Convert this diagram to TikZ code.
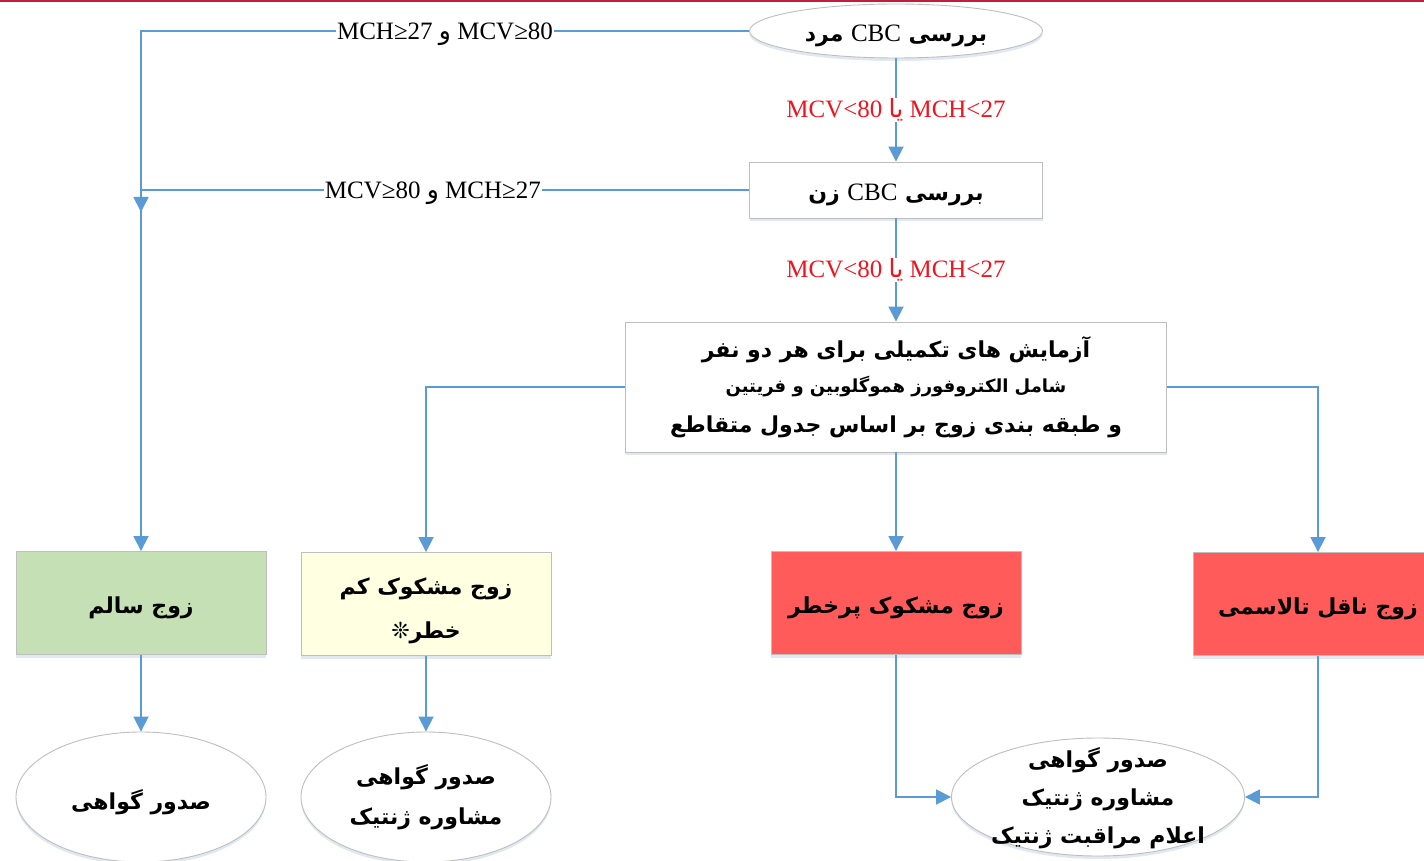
\documentclass[tikz,border=0pt]{standalone}
\usepackage{fontspec}
\setmainfont{Liberation Serif}
\newfontfamily\fa[Script=Arabic]{DejaVu Sans}
\TeXXeTstate=1
\usetikzlibrary{shapes.geometric,arrows.meta,shadows}
\definecolor{lineblue}{RGB}{91,155,213}
\definecolor{bordergray}{RGB}{190,190,190}
\definecolor{greenfill}{RGB}{197,224,180}
\definecolor{yellowfill}{RGB}{255,255,226}
\definecolor{redfill}{RGB}{255,91,91}
\definecolor{redtext}{RGB}{240,20,30}
\definecolor{toprule}{RGB}{190,30,64}
\definecolor{shadowcol}{RGB}{170,190,215}
\newcommand{\lowr}[1]{\raisebox{-5pt}[\height][\depth]{#1}}
\begin{document}
\begin{tikzpicture}[x=1pt,y=-1pt,
  conn/.style={draw=lineblue, line width=1.8pt, -{Triangle[length=15pt,width=15pt]}},
  shade/.style={drop shadow={shadow xshift=0pt, shadow yshift=-3pt, opacity=0.35, fill=shadowcol}},
  fatext/.style={font=\fa\bfseries\fontsize{22}{38}\selectfont},
  boxnode/.style={draw=bordergray, line width=0.9pt, fill=white, shade, minimum width=250pt, minimum height=103pt, align=center, inner sep=2pt, fatext},
  ellnode/.style={ellipse, draw=bordergray, line width=0.9pt, fill=white, shade, minimum width=250pt, minimum height=130pt, align=center, inner sep=0pt, fatext},
  lbl/.style={fill=white, inner sep=1pt, yshift=-3pt, font=\fontsize{25}{28}\selectfont},
  redlbl/.style={fill=white, inner sep=1pt, text=redtext, font=\fontsize{25}{28}\selectfont},
]
\useasboundingbox (0,0) rectangle (1424,861);
\fill[white] (0,0) rectangle (1424,861);
\draw[toprule, line width=2pt] (0,1) -- (1424,1);

% nodes
\node[ellnode, minimum width=293pt, minimum height=54pt] (mard) at (896,31)
  {\lowr{\beginR بررسی \beginL{\rmfamily\mdseries\fontsize{25}{28}\selectfont CBC}\endL{} مرد\endR}};
\node[boxnode, minimum width=293pt, minimum height=56pt] (zan) at (896,190)
  {\lowr{\beginR بررسی \beginL{\rmfamily\mdseries\fontsize{25}{28}\selectfont CBC}\endL{} زن\endR}};
\node[boxnode, minimum width=541pt, minimum height=130pt] (tests) at (896,387)
  {\beginR آزمایش های تکمیلی برای هر دو نفر\endR\\[-3pt]
   {\fontsize{18}{30}\selectfont\beginR شامل الکتروفورز هموگلوبین و فریتین\endR}\\[2pt]
   \beginR و طبقه بندی زوج بر اساس جدول متقاطع\endR};
\node[boxnode, fill=greenfill] (salem) at (141,603) {\lowr{\beginR زوج سالم\endR}};
\node[boxnode, fill=yellowfill] (kam) at (426,604)
  {\lowr{\begin{tabular}{@{}c@{}}\beginR زوج مشکوک کم\endR\\[6pt]\beginR خطر❊\endR\end{tabular}}};
\node[boxnode, fill=redfill] (porkhatar) at (896,603) {\lowr{\beginR زوج مشکوک پرخطر\endR}};
\node[boxnode, fill=redfill] (naqel) at (1318,604) {\lowr{\beginR زوج ناقل تالاسمی\endR}};
\node[ellnode] (e1) at (141,797) {\lowr{\beginR صدور گواهی\endR}};
\node[ellnode] (e2) at (426,797) {\beginR صدور گواهی\endR\\[2pt]\beginR مشاوره ژنتیک\endR};
\node[ellnode, minimum width=293pt, minimum height=118pt] (e3) at (1098,797) {};
\node[align=center, inner sep=0pt, fatext] (e3t) at (1098,798)
  {\beginR صدور گواهی\endR\\\beginR مشاوره ژنتیک\endR\\\beginR اعلام مراقبت ژنتیک\endR};
\coordinate (j) at (141,212);

% connectors
\draw[conn] (mard.west) -| node[lbl, pos=0.25] {MCH≥27 {\fa و} MCV≥80} (salem.north);
\draw[conn] (zan.west) -| node[lbl, pos=0.26] {MCV≥80 {\fa و} MCH≥27} (j);
\draw[conn] (mard.south) -- node[redlbl] {MCV<80 {\fa یا} MCH<27} (zan.north);
\draw[conn] (zan.south) -- node[redlbl] {MCV<80 {\fa یا} MCH<27} (tests.north);
\draw[conn] (tests.west) -| (kam.north);
\draw[conn] (tests.south) -- (porkhatar.north);
\draw[conn] (tests.east) -| (naqel.north);
\draw[conn] (salem.south) -- (e1.north);
\draw[conn] (kam.south) -- (e2.north);
\draw[conn] (porkhatar.south) |- (e3.west);
\draw[conn] (naqel.south) |- (e3.east);
\end{tikzpicture}
\end{document}
